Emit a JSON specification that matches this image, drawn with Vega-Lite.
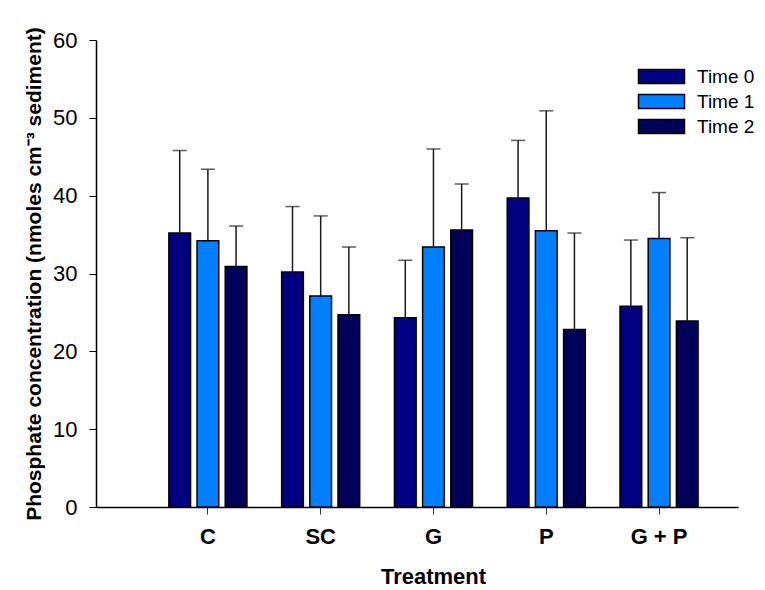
{
  "$schema": "https://vega.github.io/schema/vega-lite/v6.json",
  "width": 642,
  "height": 467,
  "autosize": {"type": "none"},
  "padding": {"left": 96, "top": 40, "right": 27, "bottom": 83},
  "background": "white",
  "config": {"view": {"stroke": null}, "font": "Liberation Sans"},
  "data": {
    "values": [
      {"treatment": "C", "time": "Time 0", "value": 35.2, "upper": 45.8},
      {"treatment": "C", "time": "Time 1", "value": 34.2, "upper": 43.4},
      {"treatment": "C", "time": "Time 2", "value": 30.9, "upper": 36.1},
      {"treatment": "SC", "time": "Time 0", "value": 30.2, "upper": 38.6},
      {"treatment": "SC", "time": "Time 1", "value": 27.1, "upper": 37.4},
      {"treatment": "SC", "time": "Time 2", "value": 24.7, "upper": 33.4},
      {"treatment": "G", "time": "Time 0", "value": 24.3, "upper": 31.7},
      {"treatment": "G", "time": "Time 1", "value": 33.4, "upper": 46.0},
      {"treatment": "G", "time": "Time 2", "value": 35.6, "upper": 41.5},
      {"treatment": "P", "time": "Time 0", "value": 39.7, "upper": 47.1},
      {"treatment": "P", "time": "Time 1", "value": 35.5, "upper": 50.9},
      {"treatment": "P", "time": "Time 2", "value": 22.8, "upper": 35.2},
      {"treatment": "G + P", "time": "Time 0", "value": 25.8, "upper": 34.3},
      {"treatment": "G + P", "time": "Time 1", "value": 34.5, "upper": 40.4},
      {"treatment": "G + P", "time": "Time 2", "value": 23.9, "upper": 34.6}
    ]
  },
  "encoding": {
    "x": {
      "field": "treatment",
      "type": "nominal",
      "sort": ["C", "SC", "G", "P", "G + P"],
      "scale": {"paddingInner": 0.308, "paddingOuter": 0.5, "align": 0.646},
      "axis": {
        "title": "Treatment",
        "titleX": 337,
        "labelAngle": 0,
        "labelFontSize": 22,
        "labelFontWeight": "bold",
        "labelColor": "black",
        "labelPadding": 12,
        "tickColor": "#333333",
        "tickSize": 7,
        "domainColor": "black",
        "domainWidth": 1.5,
        "titleFontSize": 22,
        "titleFontWeight": "bold",
        "titleColor": "black",
        "titlePadding": 19
      }
    },
    "xOffset": {
      "field": "time",
      "type": "nominal",
      "sort": ["Time 0", "Time 1", "Time 2"],
      "scale": {"paddingInner": 0.23, "paddingOuter": 0}
    }
  },
  "layer": [
    {
      "mark": {"type": "bar", "stroke": "black", "strokeWidth": 1.5},
      "encoding": {
        "y": {
          "field": "value",
          "type": "quantitative",
          "scale": {"domain": [0, 60]},
          "axis": {
            "values": [0, 10, 20, 30, 40, 50, 60],
            "grid": false,
            "title": "Phosphate concentration (nmoles cm⁻³ sediment)",
            "labelFontSize": 22,
            "labelColor": "black",
            "labelPadding": 12,
            "tickColor": "black",
            "tickSize": 7,
            "domainColor": "black",
            "domainWidth": 1.5,
            "titleFontSize": 21,
            "titleFontWeight": "bold",
            "titleColor": "black",
            "titlePadding": 8
          }
        },
        "color": {
          "field": "time",
          "type": "nominal",
          "scale": {"domain": ["Time 0", "Time 1", "Time 2"], "range": ["#000080", "#0080FF", "#000058"]},
          "legend": {
            "title": null,
            "orient": "none",
            "legendX": 556,
            "legendY": 27,
            "symbolType": "M-3.286,-1H3.286V1H-3.286Z",
            "symbolSize": 196,
            "symbolStrokeColor": "black",
            "symbolStrokeWidth": 1.5,
            "symbolOpacity": 1,
            "labelFontSize": 19,
            "labelColor": "black",
            "labelOffset": 26,
            "rowPadding": 4
          }
        }
      }
    },
    {
      "mark": {"type": "rule", "color": "#1a1a1a", "strokeWidth": 1.5},
      "encoding": {
        "y": {"field": "value", "type": "quantitative"},
        "y2": {"field": "upper"}
      }
    },
    {
      "mark": {"type": "tick", "color": "#1a1a1a", "size": 14, "thickness": 1.5},
      "encoding": {
        "y": {"field": "upper", "type": "quantitative"}
      }
    }
  ]
}
